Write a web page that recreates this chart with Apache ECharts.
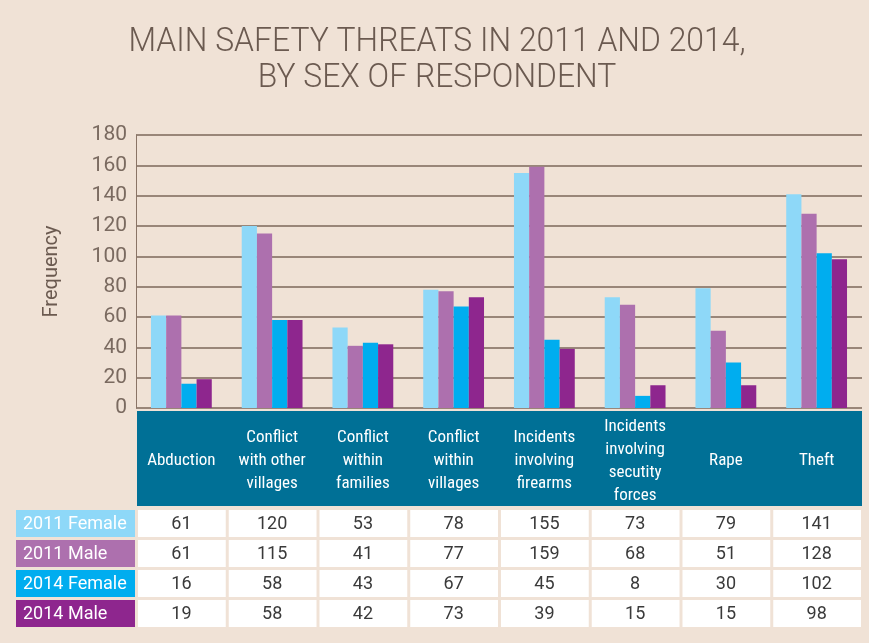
<!DOCTYPE html>
<html>
<head>
<meta charset="utf-8">
<script src="https://cdn.jsdelivr.net/npm/echarts@6/dist/echarts.min.js"></script>
<style>
  html, body { margin: 0; padding: 0; background: #f0e2d6; }
  #chart { width: 869px; height: 643px; }
</style>
</head>
<body>
<div id="chart"></div>
<script>
// data
const categories = [
  'Abduction',
  'Conflict\nwith other\nvillages',
  'Conflict\nwithin\nfamilies',
  'Conflict\nwithin\nvillages',
  'Incidents\ninvolving\nfirearms',
  'Incidents\ninvolving\nsecutity\nforces',
  'Rape',
  'Theft'
];
const seriesNames = ['2011 Female', '2011 Male', '2014 Female', '2014 Male'];
const female2011 = [61, 120, 53, 78, 155, 73, 79, 141];
const male2011 = [61, 115, 41, 77, 159, 68, 51, 128];
const female2014 = [16, 58, 43, 67, 45, 8, 30, 102];
const male2014 = [19, 58, 42, 73, 39, 15, 15, 98];
const yTicks = [0, 20, 40, 60, 80, 100, 120, 140, 160, 180];
const titleLines = ['MAIN SAFETY THREATS IN 2011 AND 2014,', 'BY SEX OF RESPONDENT'];

const colors = ['#8ed8f8', '#ad70ae', '#00adef', '#8e268e'];
const seriesValues = [female2011, male2011, female2014, male2014];
const textColor = '#6b5a50';
const narrow = "'Liberation Sans Narrow', 'Roboto Condensed', Roboto, sans-serif";

const chart = echarts.init(document.getElementById('chart'));

const option = {
  backgroundColor: '#f0e2d6',
  animation: false,
  grid: { left: 136, right: 7, top: 135, bottom: 235 },
  xAxis: {
    type: 'category',
    data: categories,
    axisLine: { show: false },
    axisTick: { show: false },
    axisLabel: {
      interval: 0,
      color: '#ffffff',
      fontFamily: narrow,
      fontSize: 17,
      lineHeight: 23,
      verticalAlign: 'middle',
      margin: 53
    }
  },
  yAxis: {
    type: 'value',
    min: yTicks[0],
    max: yTicks[yTicks.length - 1],
    interval: 20,
    name: 'Frequency',
    nameLocation: 'middle',
    nameGap: 74,
    nameTextStyle: { color: textColor, fontSize: 20, fontFamily: 'Roboto, sans-serif' },
    axisLine: { show: true, lineStyle: { color: '#8a7466', width: 1 } },
    axisTick: { show: false },
    axisLabel: { color: '#7a6a60', fontSize: 21, margin: 9, fontFamily: 'Roboto, sans-serif' },
    splitLine: { lineStyle: { color: '#7d675a', width: 1.5 } }
  },
  series: seriesNames.map((name, i) => ({
    name: name,
    type: 'bar',
    data: seriesValues[i],
    barGap: '0%',
    barCategoryGap: '33%',
    itemStyle: { color: colors[i] }
  }))
};

chart.setOption(option);

const graphics = [];

// condensed thin title: squeeze a light font to the reference width
const measure = document.createElement('canvas').getContext('2d');
const titleFont = '300 33px Roboto, sans-serif';
measure.font = titleFont;
const squeeze = 617 / measure.measureText(titleLines[0]).width;
const titleY = [43, 79];
titleLines.forEach((line, i) => {
  graphics.push({
    type: 'text',
    x: 437,
    y: titleY[i],
    scaleX: squeeze,
    style: {
      text: line,
      x: 0,
      y: 0,
      align: 'center',
      verticalAlign: 'middle',
      fill: textColor,
      font: titleFont
    }
  });
});

// table below the bars, built from the same arrays
const x0 = chart.convertToPixel({ xAxisIndex: 0 }, 0);
const x1 = chart.convertToPixel({ xAxisIndex: 0 }, 1);
const band = x1 - x0;
const left = x0 - band / 2;

graphics.push({
  type: 'rect',
  z: -1,
  shape: { x: left + 1, y: 411, width: band * categories.length - 1, height: 95 },
  style: { fill: '#007096' }
});

const rowTop = [510, 540, 570, 600];
const rowH = 27;
seriesNames.forEach((name, r) => {
  graphics.push({
    type: 'rect',
    shape: { x: 16, y: rowTop[r], width: 119, height: rowH },
    style: { fill: colors[r] }
  });
  graphics.push({
    type: 'text',
    style: {
      text: name,
      x: 23,
      y: rowTop[r] + rowH / 2 + 1,
      verticalAlign: 'middle',
      fill: '#ffffff',
      fontSize: 18,
      fontFamily: 'Roboto, sans-serif'
    }
  });
  seriesValues[r].forEach((v, c) => {
    const cx = chart.convertToPixel({ xAxisIndex: 0 }, c);
    graphics.push({
      type: 'rect',
      shape: { x: cx - band / 2 + 2, y: rowTop[r], width: band - 3, height: rowH },
      style: { fill: '#ffffff' }
    });
    graphics.push({
      type: 'text',
      style: {
        text: String(v),
        x: cx,
        y: rowTop[r] + rowH / 2 + 1,
        align: 'center',
        verticalAlign: 'middle',
        fill: '#3a3a3a',
        fontSize: 18,
        fontFamily: 'Roboto, sans-serif'
      }
    });
  });
});

chart.setOption({ graphic: graphics });
</script>
</body>
</html>
